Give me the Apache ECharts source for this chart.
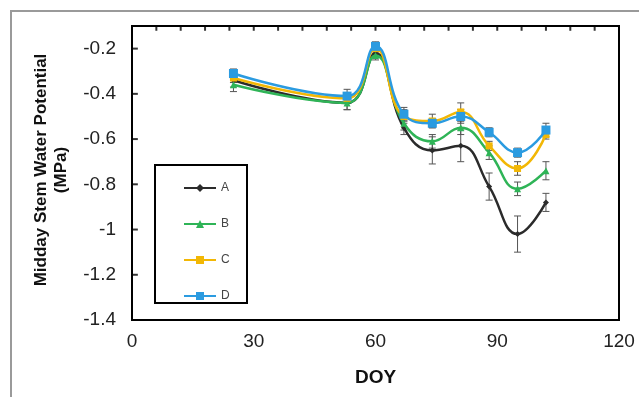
<!DOCTYPE html>
<html>
<head>
<meta charset="utf-8">
<script src="https://cdn.jsdelivr.net/npm/echarts@6/dist/echarts.min.js"></script>
<style>
  html, body { margin: 0; padding: 0; background: #fff; }
  #chart { width: 639px; height: 397px; }
</style>
</head>
<body>
<div id="chart"></div>
<script>
// day of year of each sampling
const doy = [25, 53, 60, 67, 74, 81, 88, 95, 102];
const seriesNames = ['A', 'B', 'C', 'D'];
const valuesA = [-0.34, -0.44, -0.22, -0.55, -0.65, -0.63, -0.81, -1.02, -0.88];
const valuesB = [-0.36, -0.44, -0.23, -0.53, -0.61, -0.55, -0.66, -0.82, -0.74];
const valuesC = [-0.33, -0.42, -0.20, -0.50, -0.52, -0.48, -0.63, -0.73, -0.58];
const valuesD = [-0.31, -0.41, -0.19, -0.49, -0.53, -0.50, -0.57, -0.66, -0.56];
// standard error (+/-)
const errA = [0.03, 0.03, 0.02, 0.03, 0.06, 0.07, 0.06, 0.08, 0.04];
const errB = [0.03, 0.03, 0.02, 0.03, 0.03, 0.03, 0.03, 0.03, 0.04];
const errC = [0.02, 0.02, 0.02, 0.03, 0.03, 0.04, 0.02, 0.03, 0.02];
const errD = [0.02, 0.03, 0.02, 0.03, 0.02, 0.03, 0.02, 0.02, 0.03];
const yTicks = [-1.4, -1.2, -1, -0.8, -0.6, -0.4, -0.2];
const xTicks = [0, 30, 60, 90, 120];
// small tick marks along the top frame
const topTicks = [6, 12, 18, 24, 30, 36, 42, 48, 54, 60, 66, 72, 78, 84, 90, 96, 102, 108, 114];

const colors = ['#2b2b2b', '#2fb457', '#f2b705', '#2b9be0'];
const symbols = ['diamond', 'triangle', 'rect', 'rect'];
const symbolSizes = [6, 7, 7, 9];
const allValues = [valuesA, valuesB, valuesC, valuesD];
const allErr = [errA, errB, errC, errD];

const chart = echarts.init(document.getElementById('chart'));

const lineSeries = seriesNames.map((name, i) => ({
  name,
  type: 'line',
  smooth: 0.45,
  data: doy.map((d, j) => [d, allValues[i][j]]),
  symbol: symbols[i],
  symbolSize: symbolSizes[i],
  lineStyle: { color: colors[i], width: 2.5 },
  itemStyle: { color: colors[i] },
  z: 3 + i
}));

// error bars via custom series
const errSeries = seriesNames.map((name, i) => ({
  name: name + '_err',
  type: 'custom',
  data: doy.map((d, j) => [d, allValues[i][j] - allErr[i][j], allValues[i][j] + allErr[i][j]]),
  renderItem: (params, api) => {
    const lo = api.coord([api.value(0), api.value(1)]);
    const hi = api.coord([api.value(0), api.value(2)]);
    const w = 3.5;
    const style = { stroke: '#555', lineWidth: 1 };
    return {
      type: 'group',
      children: [
        { type: 'line', shape: { x1: lo[0], y1: lo[1], x2: hi[0], y2: hi[1] }, style },
        { type: 'line', shape: { x1: lo[0] - w, y1: lo[1], x2: lo[0] + w, y2: lo[1] }, style },
        { type: 'line', shape: { x1: hi[0] - w, y1: hi[1], x2: hi[0] + w, y2: hi[1] }, style }
      ]
    };
  },
  z: 2
}));

// inside tick marks on the left and top frame, as tiny rect symbols
// (anchored just inside the frame so nothing treats them as off-axis)
const leftTickSeries = {
  name: 'leftTicks',
  type: 'scatter',
  clip: false,
  silent: true,
  data: yTicks.map((v) => [0.7, v]),
  symbol: 'rect',
  symbolSize: [6, 2],
  itemStyle: { color: '#000' },
  z: 10
};
const topTickSeries = {
  name: 'topTicks',
  type: 'scatter',
  clip: false,
  silent: true,
  data: topTicks.map((t) => [t, -0.11]),
  symbol: 'rect',
  symbolSize: [2, 5],
  itemStyle: { color: '#000' },
  z: 10
};

const option = {
  animation: false,
  backgroundColor: '#fff',
  textStyle: { fontFamily: 'Liberation Sans, Arial, sans-serif' },
  grid: { left: 132, right: 20, top: 26, bottom: 77, show: true, borderColor: '#000', borderWidth: 2, backgroundColor: 'transparent' },
  legend: {
    data: seriesNames,
    orient: 'vertical',
    left: 178,
    top: 177,
    itemWidth: 32,
    itemHeight: 10,
    itemGap: 24,
    textStyle: { color: '#444', fontSize: 12, fontFamily: 'Liberation Sans, Arial, sans-serif' }
  },
  xAxis: {
    type: 'value',
    min: 0,
    max: 120,
    interval: 30,
    axisLine: { show: true, onZero: false, lineStyle: { color: '#000', width: 2 } },
    axisTick: { show: false },
    splitLine: { show: false },
    axisLabel: {
      color: '#222',
      fontSize: 19,
      margin: 12,
      formatter: (v) => (xTicks.includes(v) ? String(v) : '')
    },
    name: 'DOY',
    nameLocation: 'middle',
    nameGap: 48,
    nameTextStyle: { color: '#111', fontSize: 19, fontWeight: 'bold' }
  },
  yAxis: {
    type: 'value',
    min: -1.4,
    max: -0.1,
    interval: 0.2,
    axisLine: { show: true, onZero: false, lineStyle: { color: '#000', width: 2 } },
    axisTick: { show: false },
    splitLine: { show: false },
    axisLabel: {
      color: '#222',
      fontSize: 19,
      margin: 16,
      showMaxLabel: false,
      formatter: (v) => {
        const r = Math.round(v * 10) / 10;
        return yTicks.some((t) => Math.abs(t - r) < 1e-9) ? String(r) : '';
      }
    }
  },
  graphic: [
    // outer figure frame
    {
      type: 'polyline',
      shape: { points: [[11, 400], [11, 11], [640, 11]] },
      style: { stroke: '#9a9a9a', lineWidth: 2, fill: null },
      silent: true
    },
    // legend box
    {
      type: 'rect',
      shape: { x: 155, y: 165, width: 92, height: 138 },
      style: { stroke: '#000', lineWidth: 2, fill: '#fff' },
      z: 1
    },
    // y axis title
    {
      type: 'text',
      x: 51,
      y: 170,
      rotation: Math.PI / 2,
      style: {
        text: 'Midday Stem Water Potential\n(MPa)',
        fontFamily: 'Liberation Sans, Arial, sans-serif',
        fontSize: 17,
        fontWeight: 'bold',
        lineHeight: 20,
        fill: '#111',
        align: 'center',
        verticalAlign: 'middle'
      }
    }
  ],
  series: [...errSeries, ...lineSeries, leftTickSeries, topTickSeries]
};

chart.setOption(option);
</script>
</body>
</html>
